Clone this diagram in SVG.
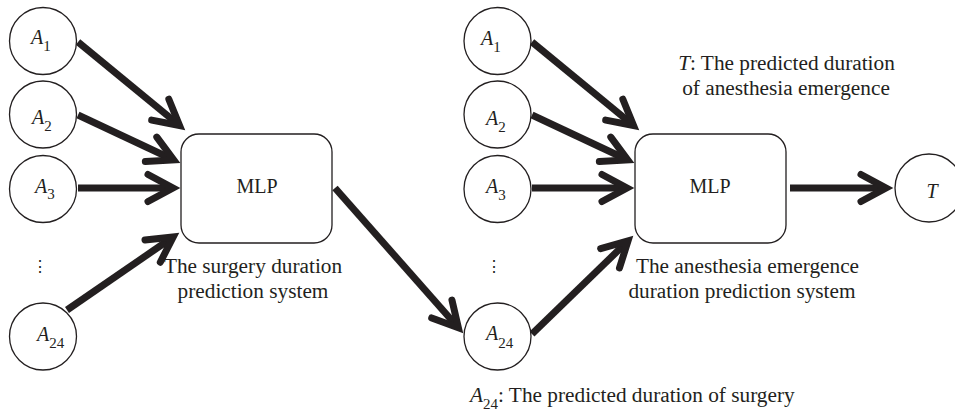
<svg xmlns="http://www.w3.org/2000/svg" width="955" height="413" viewBox="0 0 955 413">
<style>
.node{fill:#fff;stroke:#231f20;stroke-width:1.3}
.t{font-family:"Liberation Serif","DejaVu Serif",serif;font-size:20px;fill:#231f20}
.l{font-size:21.3px}
.i{font-style:italic}
.s{font-size:15px}
.c{text-anchor:middle}
.arr{fill:none;stroke:#231f20;stroke-width:7;marker-end:url(#ah)}
.dots{font-family:"DejaVu Serif",serif;font-size:16px;fill:#231f20;text-anchor:middle}
</style>
<defs>
<marker id="ah" markerUnits="userSpaceOnUse" orient="auto" refX="0" refY="0" markerWidth="60" markerHeight="60" viewBox="-40 -30 60 60" overflow="visible">
<path d="M -24 -13.5 L 1 0 L -24 13.5" fill="none" stroke="#231f20" stroke-width="7" stroke-linecap="round" stroke-linejoin="miter" stroke-miterlimit="4"/>
</marker>
</defs>
<rect width="955" height="413" fill="#fff"/>
<g id="connectors">
<path class="arr" d="M 78 42 L 178.8 124.9"/>
<path class="arr" d="M 78 115 L 172.8 159.5"/>
<path class="arr" d="M 78 188 L 172 188"/>
<path class="arr" d="M 67 310 L 172.4 237.5"/>
<path class="arr" d="M 335 188 L 457.7 327"/>
<path class="arr" d="M 532 42 L 632.8 124.9"/>
<path class="arr" d="M 532 115 L 626.8 159.5"/>
<path class="arr" d="M 532 188 L 626 188"/>
<path class="arr" d="M 532 334 L 627.3 241.6"/>
<path class="arr" d="M 790 188 L 885 188"/>
</g>
<g id="L_A1"><circle class="node" cx="43" cy="41" r="33.5"/><text class="t" x="31" y="44"><tspan class="i">A</tspan><tspan class="s" dy="7">1</tspan></text></g>
<g id="L_A2"><circle class="node" cx="43" cy="114.5" r="33.5"/><text class="t" x="32" y="124"><tspan class="i">A</tspan><tspan class="s" dy="7">2</tspan></text></g>
<g id="L_A3"><circle class="node" cx="43" cy="189" r="33.5"/><text class="t" x="35" y="193"><tspan class="i">A</tspan><tspan class="s" dy="6">3</tspan></text></g>
<text class="dots" x="40" y="272">⋮</text>
<g id="L_A24"><circle class="node" cx="43" cy="336.5" r="33.5"/><text class="t" x="37" y="341"><tspan class="i">A</tspan><tspan class="s" dy="7">24</tspan></text></g>
<g id="L_MLP"><rect class="node" x="181" y="134" width="151" height="109" rx="18"/><text class="t c" x="257" y="193">MLP</text>
<text class="t l c" x="253" y="273">The surgery duration</text><text class="t l c" x="253" y="298">prediction system</text></g>
<g id="R_A1"><circle class="node" cx="497.5" cy="41" r="33.5"/><text class="t" x="481" y="45"><tspan class="i">A</tspan><tspan class="s" dy="7">1</tspan></text></g>
<g id="R_A2"><circle class="node" cx="497.5" cy="114.5" r="33.5"/><text class="t" x="486" y="125"><tspan class="i">A</tspan><tspan class="s" dy="7">2</tspan></text></g>
<g id="R_A3"><circle class="node" cx="497.5" cy="189" r="33.5"/><text class="t" x="486" y="193"><tspan class="i">A</tspan><tspan class="s" dy="7">3</tspan></text></g>
<text class="dots" x="494" y="272">⋮</text>
<g id="R_A24"><circle class="node" cx="497.5" cy="336.5" r="33.5"/><text class="t" x="486" y="340"><tspan class="i">A</tspan><tspan class="s" dy="8">24</tspan></text></g>
<g id="R_MLP"><rect class="node" x="635" y="134" width="151" height="109" rx="18"/><text class="t c" x="710" y="193">MLP</text>
<text class="t l c" x="747.5" y="273">The anesthesia emergence</text><text class="t l c" x="742" y="298">duration prediction system</text></g>
<g id="T"><circle class="node" cx="929" cy="188" r="34"/><text class="t i c" x="932" y="198">T</text></g>
<g id="notes">
<text class="t l c" x="786.5" y="70"><tspan class="i">T</tspan>: The predicted duration</text>
<text class="t l c" x="786" y="95">of anesthesia emergence</text>
<text class="t l" x="470" y="402"><tspan class="i">A</tspan><tspan class="s" dy="7">24</tspan><tspan dy="-7">: The predicted duration of surgery</tspan></text>
</g>
</svg>
